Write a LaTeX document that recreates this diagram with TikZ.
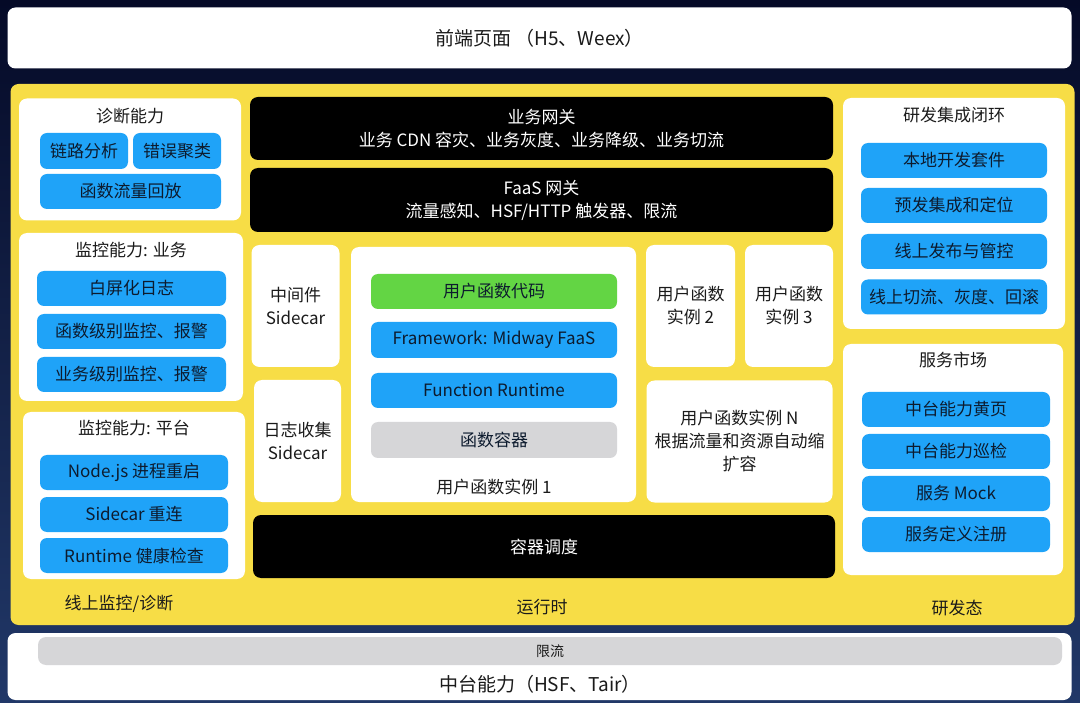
\documentclass[tikz,border=0pt]{standalone}
\usepackage{fontspec}
\setmainfont{Noto Sans CJK SC}
\definecolor{bgtop}{HTML}{050A27}
\definecolor{bgbot}{HTML}{213868}
\definecolor{ybg}{HTML}{F7DD46}
\definecolor{btnblue}{HTML}{1FA3F8}
\definecolor{btntext}{HTML}{0D1B2E}
\definecolor{ttltext}{HTML}{1A1A1A}
\definecolor{greenbtn}{HTML}{63D544}
\definecolor{graybar}{HTML}{D6D6D8}
\tikzset{
  panel/.style={fill=white, rounded corners=8pt, inner sep=0pt, text=ttltext, align=center, font=\fontsize{17}{23}\selectfont},
  btn/.style={fill=btnblue, rounded corners=7pt, inner sep=0pt, text=btntext, font=\fontsize{17}{20}\selectfont},
  blk/.style={fill=black, rounded corners=8pt, inner sep=0pt, text=white, align=center, font=\fontsize{17}{23}\selectfont},
  ttl/.style={inner sep=0pt, text=ttltext, align=center, font=\fontsize{17}{20}\selectfont},
  big/.style={font=\fontsize{19}{23}\selectfont},
}
\begin{document}
\begin{tikzpicture}[x=1pt,y=-1pt]
\useasboundingbox (0,0) rectangle (1080,703);
\shade[top color=bgtop, bottom color=bgbot] (0,0) rectangle (1080,703);

% top and bottom bars
\node[panel, big, minimum width=1064pt, minimum height=61pt] (front) at (539.5,38) {前端页面 （H5、Weex）};
\node[fill=ybg, rounded corners=8pt, inner sep=0pt, minimum width=1064pt, minimum height=541pt] (yellow) at (542.5,354.5) {};
\node[panel, minimum width=1064pt, minimum height=67pt] (base) at (539.5,666.5) {};
\node[fill=graybar, rounded corners=8pt, inner sep=0pt, minimum width=1024pt, minimum height=28pt, text=ttltext, font=\fontsize{14}{16}\selectfont] (limit) at (550,651) {限流};
\node[ttl, big] (basetxt) at (540,684) {中台能力（HSF、Tair）};

% left column
\node[panel, minimum width=222pt, minimum height=122pt] (diag) at (130,159.5) {};
\node[ttl] (diagt) at (130,116) {诊断能力};
\node[btn, minimum width=88pt, minimum height=36pt] (d1) at (84,151) {链路分析};
\node[btn, minimum width=88pt, minimum height=36pt] (d2) at (177,151) {错误聚类};
\node[btn, minimum width=181pt, minimum height=35pt] (d3) at (130.5,191.5) {函数流量回放};

\node[panel, minimum width=224pt, minimum height=168pt] (monb) at (131,317) {};
\node[ttl] (monbt) at (131,250) {监控能力: 业务};
\node[btn, minimum width=189pt, minimum height=35pt] (mb1) at (131.5,288.5) {白屏化日志};
\node[btn, minimum width=189pt, minimum height=35pt] (mb2) at (131.5,331.5) {函数级别监控、报警};
\node[btn, minimum width=189pt, minimum height=35pt] (mb3) at (131.5,374.5) {业务级别监控、报警};

\node[panel, minimum width=222pt, minimum height=167pt] (monp) at (134,495.5) {};
\node[ttl] (monpt) at (134,428) {监控能力: 平台};
\node[btn, minimum width=188pt, minimum height=35pt] (mp1) at (134,472.5) {Node.js 进程重启};
\node[btn, minimum width=188pt, minimum height=35pt] (mp2) at (134,514.5) {Sidecar 重连};
\node[btn, minimum width=188pt, minimum height=35pt] (mp3) at (134,555.5) {Runtime 健康检查};
\node[ttl] (leftlbl) at (119,604) {线上监控/诊断};

% center
\node[blk, minimum width=583pt, minimum height=63pt] (gw1) at (541.5,128.5) {业务网关\\业务 CDN 容灾、业务灰度、业务降级、业务切流};
\node[blk, minimum width=583pt, minimum height=64pt] (gw2) at (541.5,200) {FaaS 网关\\流量感知、HSF/HTTP 触发器、限流};

\node[panel, minimum width=88pt, minimum height=122pt] (sc1) at (295.5,306) {中间件\\Sidecar};
\node[panel, minimum width=87pt, minimum height=122pt] (sc2) at (297.5,441) {日志收集\\Sidecar};

\node[panel, minimum width=285pt, minimum height=255pt] (inst1) at (493.5,374.5) {};
\node[fill=greenbtn, rounded corners=7pt, inner sep=0pt, text=btntext, font=\fontsize{17}{20}\selectfont, minimum width=246pt, minimum height=35pt] (code) at (494,291.5) {用户函数代码};
\node[btn, minimum width=246pt, minimum height=36pt] (fw) at (494,340) {Framework: Midway FaaS};
\node[btn, minimum width=246pt, minimum height=35pt] (rt) at (494,390.5) {Function Runtime};
\node[fill=graybar, rounded corners=7pt, inner sep=0pt, text=btntext, font=\fontsize{17}{20}\selectfont, minimum width=246pt, minimum height=36pt] (ctr) at (494,440) {函数容器};
\node[ttl] (inst1t) at (494,487) {用户函数实例 1};

\node[panel, minimum width=89pt, minimum height=122pt] (inst2) at (690.5,306) {用户函数\\实例 2};
\node[panel, minimum width=88pt, minimum height=122pt] (inst3) at (789,306) {用户函数\\实例 3};
\node[panel, minimum width=186pt, minimum height=122pt] (instn) at (739.5,441.5) {用户函数实例 N\\根据流量和资源自动缩\\扩容};

\node[blk, minimum width=582pt, minimum height=63pt] (sched) at (544,546.5) {容器调度};
\node[ttl] (midlbl) at (542,607) {运行时};

% right column
\node[panel, minimum width=222pt, minimum height=231pt] (dev) at (954,213.5) {};
\node[ttl] (devt) at (954,115) {研发集成闭环};
\node[btn, minimum width=186pt, minimum height=35pt] (r1) at (954,160.5) {本地开发套件};
\node[btn, minimum width=186pt, minimum height=35pt] (r2) at (954,205.5) {预发集成和定位};
\node[btn, minimum width=186pt, minimum height=35pt] (r3) at (954,251.5) {线上发布与管控};
\node[btn, minimum width=186pt, minimum height=35pt] (r4) at (954,297) {线上切流、灰度、回滚};

\node[panel, minimum width=220pt, minimum height=231pt] (mkt) at (953,459.5) {};
\node[ttl] (mktt) at (953,360) {服务市场};
\node[btn, minimum width=188pt, minimum height=35pt] (s1) at (956,409.5) {中台能力黄页};
\node[btn, minimum width=188pt, minimum height=35pt] (s2) at (956,451.5) {中台能力巡检};
\node[btn, minimum width=188pt, minimum height=35pt] (s3) at (956,493.5) {服务 Mock};
\node[btn, minimum width=188pt, minimum height=35pt] (s4) at (956,534.5) {服务定义注册};
\node[ttl] (rightlbl) at (957,608) {研发态};
\end{tikzpicture}
\end{document}
